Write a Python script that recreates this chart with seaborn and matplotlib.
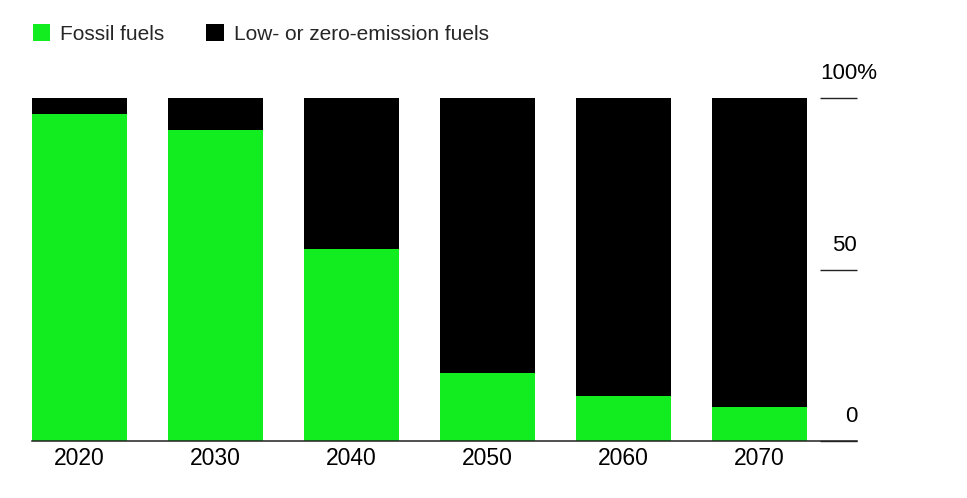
import pandas as pd
import seaborn as sns
import matplotlib.pyplot as plt
from matplotlib.patches import Patch
from matplotlib.transforms import blended_transform_factory

years = ['2020', '2030', '2040', '2050', '2060', '2070']
fossil = [95.2, 90.6, 56.1, 19.9, 13.1, 9.9]
low_zero = [100 - v for v in fossil]

green = '#12ED1F'
black = '#000000'

df = pd.DataFrame({'year': years, 'fossil': fossil, 'low_zero': low_zero})
df['total'] = df['fossil'] + df['low_zero']

sns.set_style('white')
plt.rcParams['font.family'] = ['Liberation Sans', 'DejaVu Sans']

fig = plt.figure(figsize=(9.67, 4.98), dpi=100)
ax = fig.add_axes([32 / 967, 1 - 441 / 498, (857 - 32) / 967, (441 - 98) / 498])

# stacked: draw the total in black, then the fossil share on top in green
sns.barplot(data=df, x='year', y='total', color=black, width=0.7, ax=ax,
            saturation=1, linewidth=0)
sns.barplot(data=df, x='year', y='fossil', color=green, width=0.7, ax=ax,
            saturation=1, linewidth=0)

ax.set_xlim(-0.35, 5.717)
ax.set_ylim(0, 100)
ax.set_xlabel('')
ax.set_ylabel('')

for s in ['top', 'left', 'right']:
    ax.spines[s].set_visible(False)
ax.spines['bottom'].set_color('#222222')
ax.spines['bottom'].set_linewidth(1.1)

ax.tick_params(axis='x', length=0, labelsize=16.5, pad=4, colors='black')

# y ticks on the right, pointing inward, labels sitting above the lines
ax.yaxis.tick_right()
ax.set_yticks([0, 50, 100])
ax.tick_params(axis='y', direction='in', length=26.5, width=1.0, color='#222222',
               labelright=False, labelleft=False)

tr = blended_transform_factory(ax.transAxes, ax.transData)
for v, lab in zip([0, 50, 100], ['0', '50', '100%']):
    dx = 20 if lab.endswith('%') else 0
    ax.annotate(lab, xy=(1, v), xycoords=tr, xytext=(dx * 0.72, 10),
                textcoords='offset points', ha='right', va='bottom',
                fontsize=16, color='black', annotation_clip=False)

handles = [Patch(facecolor=green, edgecolor='none', label='Fossil fuels'),
           Patch(facecolor=black, edgecolor='none', label='Low- or zero-emission fuels')]
fig.legend(handles=handles, loc='center left', bbox_to_anchor=(33 / 967, 1 - 34 / 498),
           ncol=2, frameon=False, fontsize=15, handlelength=0.82, handleheight=0.82,
           handletextpad=0.5, columnspacing=2.0, borderpad=0, borderaxespad=0)

plt.savefig('out.png', dpi=100)
